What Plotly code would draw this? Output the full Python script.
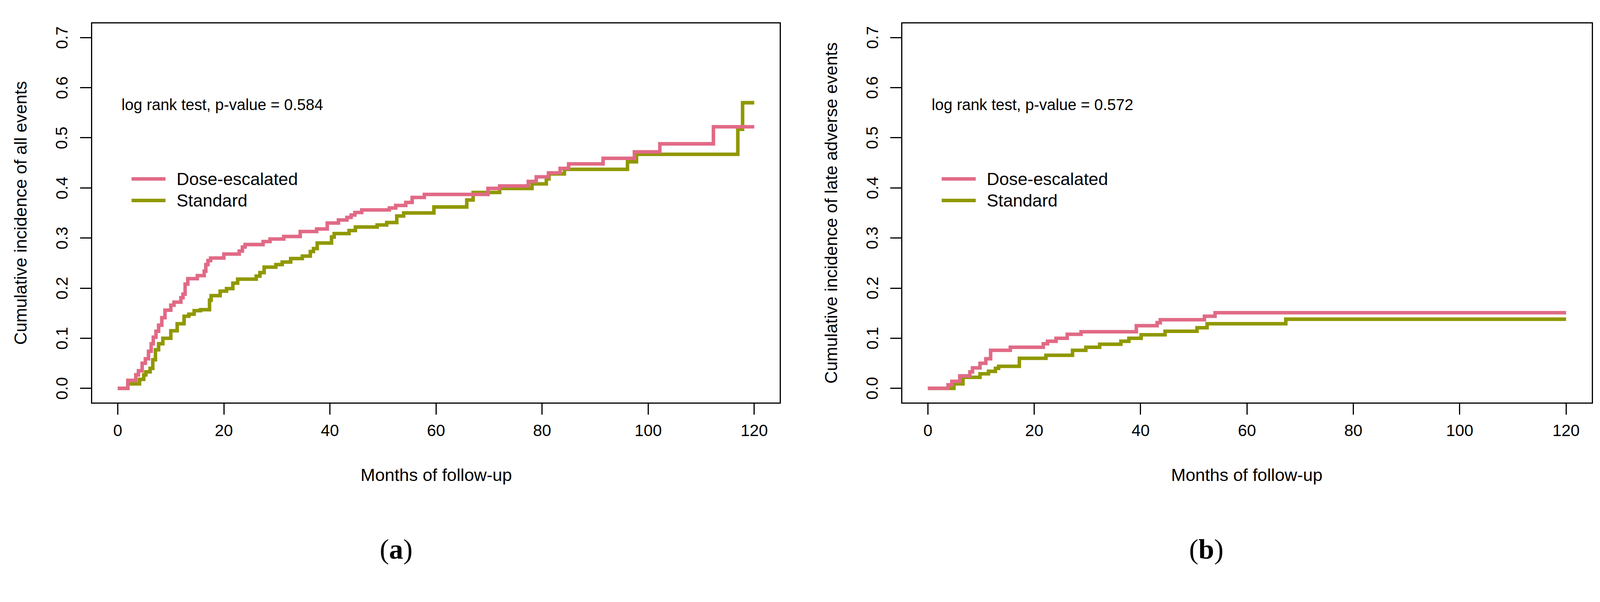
import plotly.graph_objects as go

# ---------------- data (months, cumulative incidence after the step) ----------------
a_dose_t = [0, 1.9, 3.4, 3.9, 4.6, 5.2, 5.8, 6.3, 6.7, 7.2, 7.7, 8.3, 8.9, 10.0, 10.6, 11.9,
            12.3, 12.7, 13.2, 15.0, 16.3, 16.6, 17.0, 17.5, 20.0, 22.9, 23.5, 24.0, 27.4, 28.7,
            31.3, 34.4, 37.5, 39.5, 41.6, 43.2, 44.0, 44.7, 46.0, 51.2, 52.4, 54.3, 55.5, 57.8,
            69.8, 72.0, 77.4, 78.9, 81.2, 83.4, 85.0, 91.5, 97.4, 102.2, 112.3, 120]
a_dose_v = [0, 0.016, 0.027, 0.035, 0.050, 0.059, 0.074, 0.089, 0.102, 0.114, 0.126, 0.141, 0.156,
            0.166, 0.172, 0.181, 0.188, 0.208, 0.219, 0.225, 0.234, 0.247, 0.255, 0.260, 0.268,
            0.274, 0.282, 0.287, 0.293, 0.298, 0.303, 0.313, 0.318, 0.330, 0.336, 0.341, 0.346,
            0.351, 0.356, 0.360, 0.365, 0.371, 0.381, 0.387, 0.399, 0.404, 0.413, 0.422, 0.430,
            0.439, 0.448, 0.459, 0.472, 0.488, 0.522, 0.522]

a_std_t = [0, 1.9, 4.1, 4.9, 5.3, 6.1, 6.6, 7.1, 7.7, 8.5, 10.0, 11.2, 12.5, 13.4, 14.4, 15.6,
           17.3, 17.6, 19.3, 20.5, 21.7, 22.6, 26.1, 26.8, 27.6, 29.8, 31.0, 32.6, 34.8, 36.3,
           36.9, 37.6, 40.3, 40.8, 43.6, 44.8, 48.9, 50.7, 52.6, 53.9, 59.6, 65.8, 67.0, 72.0,
           78.1, 80.8, 81.3, 84.2, 96.1, 97.8, 116.9, 117.8, 120]
a_std_v = [0, 0.009, 0.018, 0.027, 0.033, 0.040, 0.057, 0.077, 0.089, 0.100, 0.115, 0.129, 0.144,
           0.148, 0.155, 0.157, 0.176, 0.185, 0.194, 0.199, 0.210, 0.218, 0.224, 0.231, 0.242,
           0.247, 0.252, 0.259, 0.264, 0.273, 0.279, 0.290, 0.302, 0.309, 0.315, 0.322, 0.326,
           0.331, 0.344, 0.350, 0.362, 0.376, 0.391, 0.399, 0.408, 0.418, 0.428, 0.437, 0.452,
           0.467, 0.517, 0.570, 0.570]

b_dose_t = [0, 3.8, 4.5, 6.0, 7.9, 8.4, 9.8, 10.9, 11.8, 15.5, 21.7, 22.5, 24.1, 26.2, 28.8,
            39.2, 43.1, 43.7, 52.0, 54.0, 120]
b_dose_v = [0, 0.007, 0.014, 0.025, 0.033, 0.041, 0.050, 0.059, 0.076, 0.082, 0.089, 0.094,
            0.100, 0.108, 0.113, 0.125, 0.131, 0.137, 0.144, 0.151, 0.151]

b_std_t = [0, 4.9, 6.6, 9.8, 11.4, 12.7, 13.3, 17.2, 22.2, 27.2, 29.7, 32.3, 36.3, 37.8, 40.1,
           44.6, 50.6, 52.5, 67.3, 120]
b_std_v = [0, 0.009, 0.022, 0.029, 0.034, 0.040, 0.044, 0.060, 0.066, 0.076, 0.082, 0.088,
           0.094, 0.100, 0.107, 0.114, 0.121, 0.129, 0.138, 0.138]

series_names = ["Dose-escalated", "Standard"]
x_ticks = [0, 20, 40, 60, 80, 100, 120]
y_ticks = [0.0, 0.1, 0.2, 0.3, 0.4, 0.5, 0.6, 0.7]
y_tick_labels = ["0.0", "0.1", "0.2", "0.3", "0.4", "0.5", "0.6", "0.7"]
y_titles = ["Cumulative incidence of all events", "Cumulative incidence of late adverse events"]
x_title = "Months of follow-up"
pvalue_texts = ["log rank test, p-value = 0.584", "log rank test, p-value = 0.572"]
panel_labels = ["(<b>a</b>)", "(<b>b</b>)"]

# ---------------- styling ----------------
IW, IH = 4306, 1542          # target image pixels
S = 4096 / 4306              # browser viewport is 4096 CSS px wide, photo scaled to 4306
W, H = round(IW * S), round(IH * S)
COLORS = ["#E16A86", "#909800"]
FONT = "Liberation Sans, Arial, sans-serif"
LW = 9.5 * S

x_dom = [[240 / IW, 2090 / IW], [2420 / IW, 4275 / IW]]
y_dom = [1 - 1075 / IH, 1 - 55 / IH]
x_rng = [-4.8, 124.8]
y_rng = [-0.028, 0.728]

fig = go.Figure()

panels = [(a_dose_t, a_dose_v, a_std_t, a_std_v), (b_dose_t, b_dose_v, b_std_t, b_std_v)]
for i, (dt, dv, st, sv) in enumerate(panels):
    xa = "x" if i == 0 else "x2"
    ya = "y" if i == 0 else "y2"
    for t, v, c, n in [(st, sv, COLORS[1], series_names[1]), (dt, dv, COLORS[0], series_names[0])]:
        fig.add_trace(go.Scatter(x=t, y=v, mode="lines", line=dict(color=c, width=LW, shape="hv"),
                                 name=n, showlegend=False, xaxis=xa, yaxis=ya))

axis_common = dict(showgrid=False, zeroline=False, showline=True, linecolor="black", linewidth=3 * S,
                   mirror=True, ticks="outside", ticklen=30 * S, tickwidth=3 * S, tickcolor="black",
                   tickfont=dict(family=FONT, size=44 * S, color="black"))

for i in range(2):
    sx = "" if i == 0 else "2"
    fig.update_layout(**{
        f"xaxis{sx}": dict(domain=x_dom[i], range=x_rng, tickmode="array", tickvals=x_ticks,
                           anchor=f"y{sx}", ticklabelstandoff=round(5 * S), **axis_common),
        f"yaxis{sx}": dict(domain=y_dom, range=y_rng, tickmode="array", tickvals=y_ticks,
                           showticklabels=False, anchor=f"x{sx}", **axis_common),
    })

annotations = []
shapes = []
ytick_x = [158, 2339]
ytitle_x = [47, 2228]
panel_cx = [1165, 3347]
half_cx = [1058, 3238]
legend_x = [(2.6, 9.0, 10.95), (2.6, 9.0, 10.95)]
legend_y = [0.418, 0.375]
for i in range(2):
    sx = "" if i == 0 else "2"
    # rotated y tick labels (R style: parallel to the axis)
    for v, lab in zip(y_ticks, y_tick_labels):
        annotations.append(dict(text=lab, textangle=-90, x=ytick_x[i] / IW, y=v, xref="paper",
                                yref=f"y{sx}", showarrow=False, xanchor="center", yanchor="middle",
                                font=dict(family=FONT, size=44 * S, color="black")))
    annotations.append(dict(text=y_titles[i], textangle=-90, x=ytitle_x[i] / IW, y=1 - 565 / IH,
                            xref="paper", yref="paper", showarrow=False, xanchor="center",
                            yanchor="middle", font=dict(family=FONT, size=47 * S, color="black")))
    annotations.append(dict(text=x_title, x=panel_cx[i] / IW, y=1 - 1270 / IH, xref="paper",
                            yref="paper", showarrow=False, xanchor="center", yanchor="middle",
                            font=dict(family=FONT, size=47 * S, color="black")))
    annotations.append(dict(text=panel_labels[i], x=half_cx[i] / IW, y=1 - 1470 / IH, xref="paper",
                            yref="paper", showarrow=False, xanchor="center", yanchor="middle",
                            font=dict(family="Liberation Serif, Times New Roman, serif", size=76 * S,
                                      color="black")))
    annotations.append(dict(text=pvalue_texts[i], x=0.55, y=0.566, xref=f"x{sx}", yref=f"y{sx}",
                            showarrow=False, xanchor="left", yanchor="middle",
                            font=dict(family=FONT, size=42 * S, color="black")))
    x0, x1, xt = legend_x[i]
    for k in range(2):
        shapes.append(dict(type="line", xref=f"x{sx}", yref=f"y{sx}", x0=x0, x1=x1,
                           y0=legend_y[k], y1=legend_y[k], line=dict(color=COLORS[k], width=LW)))
        annotations.append(dict(text=series_names[k], x=xt, y=legend_y[k], xref=f"x{sx}",
                                yref=f"y{sx}", showarrow=False, xanchor="left", yanchor="middle",
                                font=dict(family=FONT, size=47 * S, color="black")))

fig.update_layout(width=W, height=H, margin=dict(l=0, r=0, t=0, b=0), paper_bgcolor="white",
                  plot_bgcolor="white", annotations=annotations, shapes=shapes, showlegend=False)

fig.write_html("out.html")
